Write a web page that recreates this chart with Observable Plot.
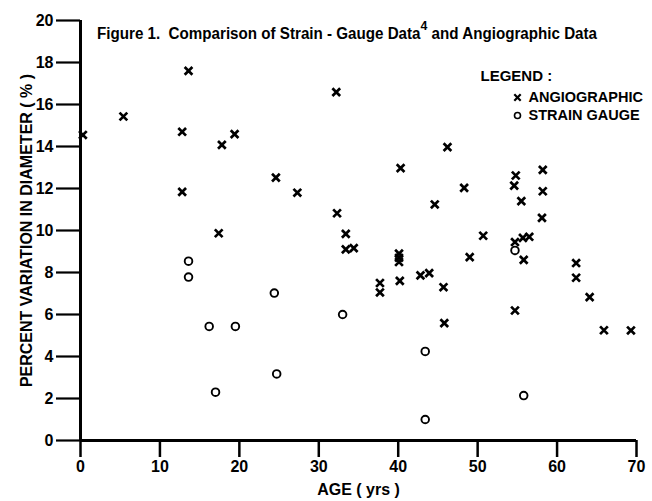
<!DOCTYPE html>
<html>
<head>
<meta charset="utf-8">
<script src="https://cdn.jsdelivr.net/npm/d3@7"></script>
<script src="https://cdn.jsdelivr.net/npm/@observablehq/plot@0.6"></script>
<style>
  html, body { margin: 0; padding: 0; background: #fff; }
  #wrap { position: relative; width: 652px; height: 501px; }
  #title { position: absolute; left: 97px; top: 21px; font-family: "Liberation Sans", Arial, sans-serif; font-weight: bold; font-size: 16px; color: #000; white-space: pre; transform-origin: 0 0; }
  #title sup { font-size: 13px; position: relative; top: -3px; }
</style>
</head>
<body>
<div id="wrap">
  <div id="chart"></div>
  <div id="title">Figure 1.  Comparison of Strain - Gauge Data<sup>4</sup> and Angiographic Data</div>
</div>
<script>
// Angiographic data: [age (yrs), percent variation in diameter]
const angioAge = [0.3, 5.4, 12.8, 12.8, 13.6, 17.4, 17.8, 19.4, 24.6, 27.3, 32.2, 32.3, 33.4, 33.4, 34.4, 37.7, 37.7, 40.1, 40.1, 40.1, 40.2, 40.3, 42.8, 43.9, 44.6, 45.7, 45.8, 46.2, 48.3, 49.0, 50.7, 54.6, 54.8, 54.7, 55.7, 56.5, 55.8, 54.7, 55.5, 58.1, 58.2, 58.2, 62.4, 62.4, 64.1, 65.9, 69.3];
const angioPct = [14.55, 15.43, 14.7, 11.84, 17.6, 9.87, 14.08, 14.59, 12.52, 11.8, 16.59, 10.82, 9.84, 9.1, 9.16, 7.5, 7.05, 8.9, 8.7, 8.5, 7.6, 12.97, 7.86, 7.97, 11.24, 7.3, 5.59, 13.97, 12.03, 8.73, 9.75, 12.14, 12.62, 9.45, 9.65, 9.7, 8.6, 6.19, 11.4, 10.6, 11.87, 12.89, 8.45, 7.75, 6.83, 5.25, 5.24];
// Strain-gauge data
const strainAge = [13.6, 13.6, 16.2, 17.0, 19.5, 24.4, 24.7, 33.0, 43.4, 43.4, 54.7, 55.8];
const strainPct = [8.54, 7.78, 5.43, 2.3, 5.43, 7.02, 3.17, 6.0, 4.24, 1.0, 9.05, 2.14];

const xTicks = [0, 10, 20, 30, 40, 50, 60, 70];
const yTicks = [0, 2, 4, 6, 8, 10, 12, 14, 16, 18, 20];
const legendTitle = ["LEGEND :"];
const legendLabels = ["ANGIOGRAPHIC", "STRAIN GAUGE"];

const angio = angioAge.map((a, i) => ({age: a, pct: angioPct[i]}));
const strain = strainAge.map((a, i) => ({age: a, pct: strainPct[i]}));

const font = '"Liberation Sans", Arial, sans-serif';

const chart = Plot.plot({
  width: 652,
  height: 501,
  marginLeft: 80,
  marginRight: 16,
  marginTop: 20,
  marginBottom: 61,
  style: {fontFamily: font, fontWeight: "bold", fontSize: "15px", background: "#fff", color: "#000"},
  x: {domain: [0, 70]},
  y: {domain: [0, 20]},
  marks: [
    Plot.axisY({ticks: yTicks, tickSize: 24, tickPadding: 3, strokeWidth: 2.2, fontSize: 16,
      label: "PERCENT VARIATION IN DIAMETER ( % )", labelAnchor: "center", labelOffset: 60, labelArrow: "none"}),
    Plot.axisX({ticks: xTicks, tickSize: 17, tickPadding: 3, strokeWidth: 2.5, fontSize: 16,
      label: "AGE ( yrs )", labelAnchor: "center", labelOffset: 54, labelArrow: "none"}),
    Plot.ruleX([0], {strokeWidth: 3}),
    Plot.ruleY([0], {strokeWidth: 3}),
    Plot.dot(angio, {x: "age", y: "pct", symbol: "times", r: 3.6, stroke: "#000", strokeWidth: 2.7}),
    Plot.dot(strain, {x: "age", y: "pct", symbol: "circle", r: 3.8, stroke: "#000", fill: "none", strokeWidth: 1.9}),
    Plot.text(legendTitle, {text: d => d, frameAnchor: "top-left", lineAnchor: "middle", dx: 400, dy: 56, textAnchor: "start", fontSize: 15}),
    Plot.dot([legendLabels[0]], {frameAnchor: "top-left", dx: 437, dy: 77, symbol: "times", r: 3, stroke: "#000", strokeWidth: 2.2}),
    Plot.dot([legendLabels[1]], {frameAnchor: "top-left", dx: 437, dy: 95, symbol: "circle", r: 3, stroke: "#000", fill: "none", strokeWidth: 1.6}),
    Plot.text([legendLabels[0]], {text: d => d, frameAnchor: "top-left", lineAnchor: "middle", dx: 448, dy: 77, textAnchor: "start", fontSize: 14.5}),
    Plot.text([legendLabels[1]], {text: d => d, frameAnchor: "top-left", lineAnchor: "middle", dx: 448, dy: 95, textAnchor: "start", fontSize: 14.5})
  ]
});
document.getElementById("chart").appendChild(chart);
// Fit the title to the reference's width (condensed look)
const t = document.getElementById("title");
const w = t.getBoundingClientRect().width;
t.style.transform = `scaleX(${Math.min(1, 500 / w)})`;
</script>
</body>
</html>
